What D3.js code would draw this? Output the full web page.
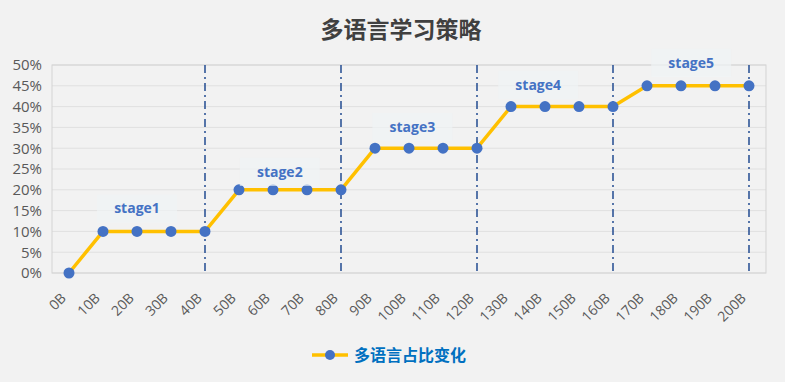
<!DOCTYPE html>
<html><head><meta charset="utf-8">
<script src="https://cdn.jsdelivr.net/npm/d3@7"></script>
<style>body{margin:0;background:#F2F2F2;}svg{display:block;}</style>
</head><body><svg id="c" width="785" height="382"></svg>
<script>
const categories = ["0B","10B","20B","30B","40B","50B","60B","70B","80B","90B","100B","110B","120B","130B","140B","150B","160B","170B","180B","190B","200B"];
const values = [0,0.10,0.10,0.10,0.10,0.20,0.20,0.20,0.20,0.30,0.30,0.30,0.30,0.40,0.40,0.40,0.40,0.45,0.45,0.45,0.45];
const yTicks = [0,0.05,0.10,0.15,0.20,0.25,0.30,0.35,0.40,0.45,0.50];
const stageBounds = ["40B","80B","120B","160B","200B"];
const stageLabels = ["stage1","stage2","stage3","stage4","stage5"];
const stageLabelPos = [[2,0.155],[6.2,0.243],[10.1,0.351],[13.8,0.452],[18.3,0.505]];
const title = "多语言学习策略";
const seriesName = "多语言占比变化";

const svg = d3.select("#c");
const m = {l:52, r:766, t:65, b:273};
const x = d3.scaleBand().domain(categories).range([m.l, m.r]);
const y = d3.scaleLinear().domain([0,0.5]).range([m.b, m.t]);
const cx = c => x(c) + x.bandwidth()/2;
const xi = i => m.l + x.bandwidth()*(i+0.5);
const font = "'Open Sans', 'Noto Sans', sans-serif";

svg.append("rect").attr("width",785).attr("height",382).attr("fill","#F2F2F2");
// gridlines
svg.append("g").selectAll("line").data(yTicks).join("line")
  .attr("x1",m.l).attr("x2",m.r).attr("y1",d=>y(d)).attr("y2",d=>y(d))
  .attr("stroke","#E0E0E0").attr("stroke-width",1);
svg.append("rect").attr("x",m.l).attr("y",m.t).attr("width",m.r-m.l).attr("height",m.b-m.t)
  .attr("fill","none").attr("stroke","#D3D3D3").attr("stroke-width",1);

// y axis
const ya = svg.append("g").attr("transform",`translate(${m.l},0)`)
  .call(d3.axisLeft(y).tickValues(yTicks).tickFormat(d3.format(".0%")).tickSize(0).tickPadding(10));
ya.select(".domain").remove();
ya.selectAll("text").attr("font-family",font).attr("font-size",15).attr("fill","#595959");

// x axis
const xa = svg.append("g").attr("transform",`translate(0,${m.b})`)
  .call(d3.axisBottom(x).tickSize(0));
xa.select(".domain").remove();
xa.selectAll("text").attr("font-family",font).attr("font-size",14).attr("fill","#595959")
  .attr("text-anchor","end").attr("dy",null).attr("y",0)
  .attr("transform","translate(-2,26) rotate(-45)");

// stage boundary lines
svg.append("g").selectAll("line").data(stageBounds).join("line")
  .attr("x1",d=>cx(d)).attr("x2",d=>cx(d)).attr("y1",m.t).attr("y2",m.b)
  .attr("stroke","#2F5597").attr("stroke-width",1.6).attr("stroke-dasharray","8,4,2,4");

// line
svg.append("path").datum(values)
  .attr("d", d3.line().x((d,i)=>cx(categories[i])).y(d=>y(d)))
  .attr("fill","none").attr("stroke","#FFC000").attr("stroke-width",3.5).attr("stroke-linejoin","round");
svg.append("g").selectAll("circle").data(values).join("circle")
  .attr("cx",(d,i)=>cx(categories[i])).attr("cy",d=>y(d)).attr("r",5.5).attr("fill","#4472C4");

// stage labels
const sl = svg.append("g").selectAll("g").data(stageLabels).join("g")
  .attr("transform",(d,i)=>`translate(${xi(stageLabelPos[i][0])},${y(stageLabelPos[i][1])})`);
sl.append("rect").attr("x",-40).attr("y",-14).attr("width",80).attr("height",28).attr("fill","#F0F4F5").attr("opacity",0.7);
sl.append("text").text(d=>d).attr("text-anchor","middle").attr("dy","0.35em")
  .attr("font-family",font).attr("font-weight","bold").attr("font-size",14).attr("fill","#4472C4");

// title
svg.append("text").text(title).attr("x",401).attr("y",38).attr("text-anchor","middle")
  .attr("font-family","'Noto Sans CJK SC', sans-serif").attr("font-weight","bold").attr("font-size",23).attr("fill","#404040");

// legend
const lg = svg.append("g");
lg.append("line").attr("x1",312).attr("x2",348).attr("y1",355).attr("y2",355).attr("stroke","#FFC000").attr("stroke-width",3.5);
lg.append("circle").attr("cx",330).attr("cy",355).attr("r",5).attr("fill","#4472C4");
lg.append("text").text(seriesName).attr("x",354).attr("y",355).attr("dy","0.35em")
  .attr("font-family","'Noto Sans CJK SC', sans-serif").attr("font-weight","bold").attr("font-size",16).attr("fill","#0070C0");
</script></body></html>
